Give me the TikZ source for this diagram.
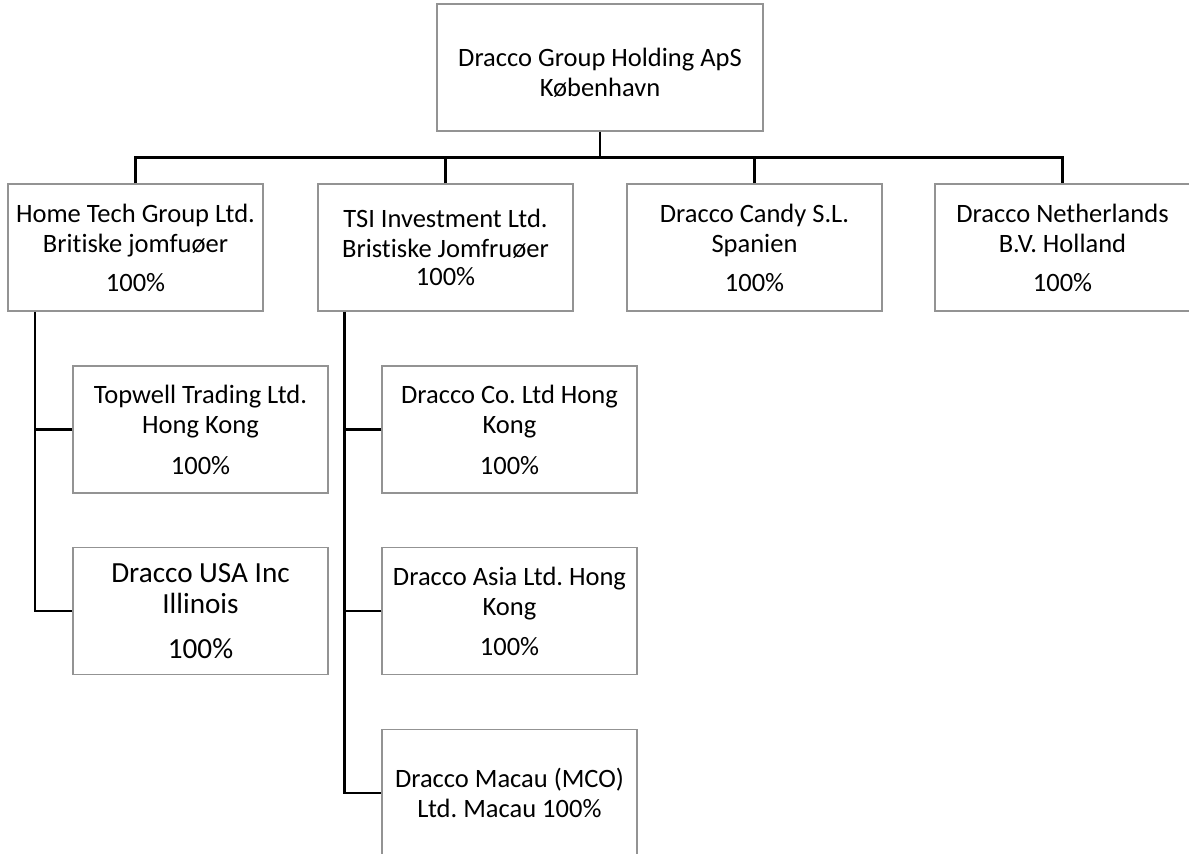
\documentclass[tikz,border=0pt]{standalone}
\usepackage{fontspec}
\setmainfont{Carlito}[Ligatures=NoCommon]
\frenchspacing
\usetikzlibrary{calc}
\tikzset{
  firmbox/.style={draw=gray!85, line width=0.6pt, fill=white, minimum width=127.5pt,
    minimum height=63.5pt, align=center, inner sep=0pt, font=\fontsize{13.25}{15}\selectfont},
  link/.style={line width=1.1pt, black}
}
\newcommand{\firm}[4]{\node[firmbox] (#1) at ( #2 , #3 ) {#4};}
\newcommand{\topfirm}[4]{\node[firmbox, minimum width=163pt] (#1) at ( #2 , #3 ) {#4};}

\begin{document}
\begin{tikzpicture}[x=0.5pt, y=-0.5pt]
        \useasboundingbox (0,0) rectangle (1189,854);

        \topfirm{holding}{600}{67.5}{\mbox{}\\[-0.5pt]Dracco Group Holding ApS\\København}

        \firm{hometech}{135.5}{247.5}{Home Tech Group Ltd.\\Britiske jomfuøer\\[4.5pt]100\%}
        \firm{tsi}{445.5}{247.5}{TSI Investment Ltd.\\Bristiske Jomfruøer\\[-1pt]100\%}
        \firm{candy}{754.5}{247.5}{Dracco Candy S.L.\\Spanien\\[4.5pt]100\%}
        \firm{nether}{1062.5}{247.5}{Dracco Netherlands\\B.V. Holland\\[4.5pt]100\%}

        \firm{topwell}{200.5}{429.5}{Topwell Trading Ltd.\\Hong Kong\\[5.5pt]100\%}
        \node[firmbox, font=\fontsize{14.6}{15.5}\selectfont] (usa) at (200.5,611) {Dracco USA Inc\\Illinois\\[7pt]100\%};

        \firm{coltd}{509.5}{429.5}{Dracco Co. Ltd Hong\\Kong\\[5.5pt]100\%}
        \firm{asia}{509.5}{611}{Dracco Asia Ltd. Hong\\Kong\\[5pt]100\%}
        \firm{macau}{509.5}{793}{Dracco Macau (MCO)\\Ltd. Macau 100\%}

        % bus under the holding company
        \path (holding.south) ++(0,26) coordinate (hub);
        \draw[link] (holding.south) -- (hub);
        \draw[link] (hometech.north) |- (hub) -| (nether.north);
        \draw[link] (tsi.north) -- (tsi.north |- hub);
        \draw[link] (candy.north) -- (candy.north |- hub);

        % Home Tech subsidiaries
        \path (hometech.south west) ++(27.5,0) coordinate (homeroot);
        \draw[link] (homeroot) |- (usa.west);
        \draw[link] (topwell.west) -- (topwell.west -| homeroot);

        % TSI subsidiaries
        \path (tsi.south west) ++(27,0) coordinate (tsiroot);
        \draw[link] (tsiroot) |- (macau.west);
        \draw[link] (coltd.west) -- (coltd.west -| tsiroot);
        \draw[link] (asia.west) -- (asia.west -| tsiroot);

    \end{tikzpicture}
\end{document}
